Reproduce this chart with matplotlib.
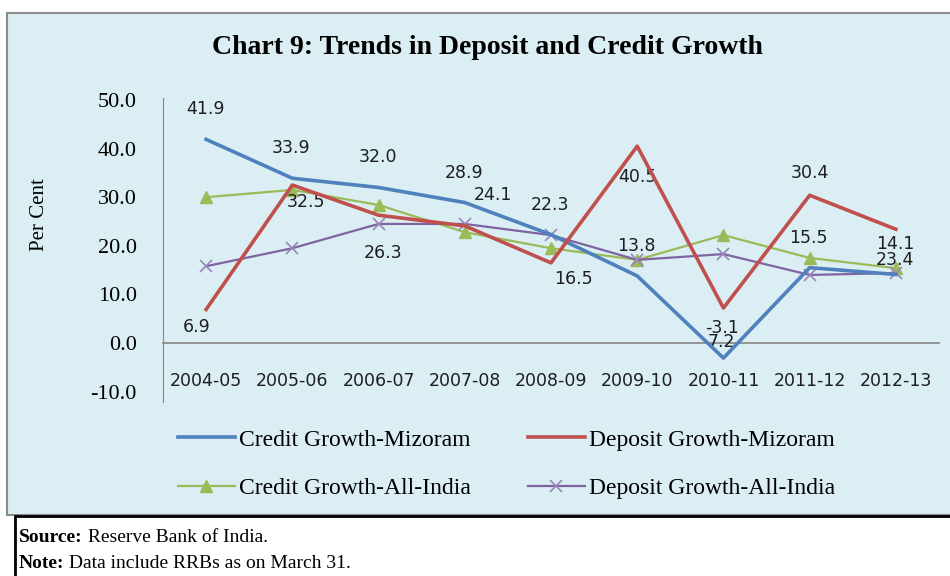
import numpy as np
import matplotlib
matplotlib.use("Agg")
import matplotlib.pyplot as plt
from matplotlib.patches import Rectangle

# data
years = ["2004-05", "2005-06", "2006-07", "2007-08", "2008-09",
         "2009-10", "2010-11", "2011-12", "2012-13"]
credit_mizoram = [41.9, 33.9, 32.0, 28.9, 22.3, 13.8, -3.1, 15.5, 14.1]
deposit_mizoram = [6.9, 32.5, 26.3, 24.1, 16.5, 40.5, 7.2, 30.4, 23.4]
credit_india = [30.0, 31.5, 28.4, 22.8, 19.5, 17.1, 22.2, 17.5, 15.4]
deposit_india = [15.8, 19.5, 24.5, 24.5, 22.2, 17.1, 18.3, 14.0, 14.4]
yticks = [-10, 0, 10, 20, 30, 40, 50]

# label offsets for the red series (pixels, dx / dy)
red_dx = [-9, 14, 5, 28, 22, 0, -2, 0, -1]
red_dy = [-18, -17, -38, 31, -16, -31, -34, 22, -31]

W, H = 950, 576
fig = plt.figure(figsize=(W / 100, H / 100), dpi=100)
fig.patch.set_facecolor("white")

bg = "#DAEEF3"
# chart panel
fig.patches.append(Rectangle((7 / W, (H - 515) / H), 1.0, (515 - 13) / H,
                             transform=fig.transFigure, facecolor=bg,
                             edgecolor="#8c8c8c", linewidth=1.5, zorder=-5))

ax = fig.add_axes([163 / W, (H - 391.6) / H, (939 - 163) / W, (391.6 - 100) / H])
ax.set_facecolor("none")
ax.set_zorder(2)

# spines first (moving a spine resets the tick labels)
for s in ["top", "right"]:
    ax.spines[s].set_visible(False)
ax.spines["left"].set_color("#868686")
ax.spines["left"].set_bounds(-12.2, 50.5)
ax.spines["bottom"].set_position(("data", 0))
ax.spines["bottom"].set_color("#868686")
ax.spines["bottom"].set_linewidth(1.2)

x = np.arange(len(years))
l1, = ax.plot(x, credit_mizoram, color="#4F81BD", lw=2.6, label="Credit Growth-Mizoram", zorder=4)
l2, = ax.plot(x, deposit_mizoram, color="#C0504D", lw=2.6, label="Deposit Growth-Mizoram", zorder=4)
l3, = ax.plot(x, credit_india, color="#9BBB59", lw=1.6, marker="^", ms=8,
              label="Credit Growth-All-India", zorder=3)
l4, = ax.plot(x, deposit_india, color="#8064A2", lw=1.6, marker="x", ms=9, mew=1.2,
              mec="#9a86bb", label="Deposit Growth-All-India", zorder=3)

lab_font = dict(family="DejaVu Sans", size=12.5, color="#1e1e1e")
for i, v in enumerate(credit_mizoram):
    ax.annotate(f"{v:.1f}", (i, v), xytext=(-1 * 0.72, 30 * 0.72),
                textcoords="offset points", ha="center", va="center", **lab_font)
for i, v in enumerate(deposit_mizoram):
    ax.annotate(f"{v:.1f}", (i, v), xytext=(red_dx[i] * 0.72, red_dy[i] * 0.72),
                textcoords="offset points", ha="center", va="center", **lab_font)

ax.set_xlim(-0.5, len(years) - 0.5)
ax.set_ylim(-10, 50)
ax.set_yticks(yticks)
ax.set_yticklabels([f"{t:.1f}" for t in yticks], family="Liberation Serif", fontsize=16)
ax.set_xticks(x)
ax.set_xticklabels(years, family="DejaVu Sans", fontsize=12.5, color="#1e1e1e")
ax.tick_params(axis="y", length=0, pad=19)
ax.tick_params(axis="x", length=0, pad=21)

fig.text(40 / W, 1 - 215 / H, "Per Cent", rotation=90, ha="center", va="center",
         family="Liberation Serif", fontsize=15)
fig.text(487 / W, 1 - 48 / H, "Chart 9: Trends in Deposit and Credit Growth",
         ha="center", va="center", family="Liberation Serif", fontweight="bold",
         fontsize=20)

# row-wise order like the original legend
fig.legend([l1, l3, l2, l4], [l.get_label() for l in (l1, l3, l2, l4)],
           loc="upper left", bbox_to_anchor=(178 / W, 1 - 429 / H), ncol=2,
           frameon=False, borderpad=0, borderaxespad=0, handlelength=2.4,
           handletextpad=0.2, columnspacing=2.4, labelspacing=1.15,
           prop={"family": "Liberation Serif", "size": 17})

# source / note box
fig.patches.append(Rectangle((15 / W, -0.01), 1.0, (H - 516) / H + 0.01,
                             transform=fig.transFigure, facecolor="white",
                             edgecolor="black", linewidth=2, zorder=1))

renderer = fig.canvas.get_renderer()
for ypix, bold, rest in [(538, "Source:", " Reserve Bank of India."),
                         (564, "Note:", " Data include RRBs as on March 31.")]:
    t = fig.text(19 / W, 1 - ypix / H, bold, ha="left", va="center",
                 family="Liberation Serif", fontweight="bold", fontsize=14)
    bb = t.get_window_extent(renderer)
    fig.text(bb.x1 / W, 1 - ypix / H, rest, ha="left", va="center",
             family="Liberation Serif", fontsize=14)

fig.savefig("out.png", dpi=100, facecolor=fig.get_facecolor())
